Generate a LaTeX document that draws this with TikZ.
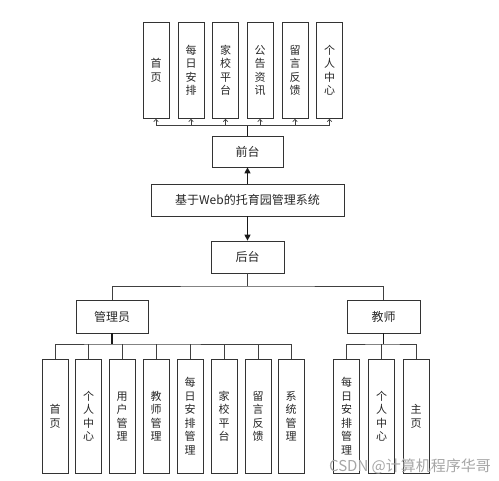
\documentclass[tikz,border=0pt]{standalone}
\usepackage{fontspec}
\newfontfamily\cjk{Noto Sans CJK SC}
\usepackage{tikz}
\usetikzlibrary{arrows.meta}
\usetikzlibrary{positioning}
\tikzset{
    common/.style={draw=black!80, rectangle, line width=0.7pt, inner sep=0pt, text=black!85, align=center,
        font=\cjk\fontsize{11}{13.5}\selectfont},
    column/.style={common, anchor=north, minimum width=26pt},
    topcolumn/.style={column, minimum height=96pt},
    bottomcolumn/.style={column, minimum height=114pt},
    block/.style={common, minimum height=32pt, font=\cjk\fontsize{12}{14}\selectfont},
    link/.style={draw=black!75, line width=0.7pt},
    stem/.style={draw=black!90, line width=1.2pt},
    up/.style={link, -{Straight Barb[length=2.5pt, width=4.5pt]}},
    mainarrow/.style={stem, -{Triangle[length=6pt, width=6pt]}},
}

\begin{document}
\begin{tikzpicture}[x=1pt, y=-1pt]
            \useasboundingbox (0,0) rectangle (499,481);

            % the system and its two sides
            \node[block, minimum width=193pt] (system) at (247.5,200) {基于Web的托育园管理系统};
            \node[block, minimum width=71pt, minimum height=31pt] (front) at (247.5,151.5) {前台};
            \node[block, minimum width=73pt] (back) at (247.5,257) {后台};
            \node[block, minimum width=72pt, minimum height=33pt] (admin) at (112,316.5) {管理员};
            \node[block, minimum width=73pt, minimum height=33pt] (teacher) at (383.5,316.5) {教师};

            \draw[mainarrow] (system) -- (front);
            \draw[mainarrow] (system) -- (back);

            % front pages
            \path
                (156,22) node[topcolumn] (f-home) {首\\页}
                +(35,0) node[topcolumn] (f-daily) {每\\日\\安\\排}
                +(69.5,0) node[topcolumn] (f-school) {家\\校\\平\\台}
                +(104,0) node[topcolumn] (f-news) {公\\告\\资\\讯}
                +(139,0) node[topcolumn] (f-message) {留\\言\\反\\馈}
                +(173.5,0) node[topcolumn] (f-center) {个\\人\\中\\心};

            \coordinate (f-bus) at (247.5,125);
            \draw[stem] (front.north) -- (f-bus);
            \draw[link] (f-home.south |- f-bus) -- (f-center.south |- f-bus);
            \draw[up] (f-home.south |- f-bus) -- (f-home.south);
            \draw[up] (f-daily.south |- f-bus) -- (f-daily.south);
            \draw[up] (f-school.south |- f-bus) -- (f-school.south);
            \draw[up] (f-news.south |- f-bus) -- (f-news.south);
            \draw[up] (f-message.south |- f-bus) -- (f-message.south);
            \draw[up] (f-center.south |- f-bus) -- (f-center.south);

            % back roles
            \coordinate (b-bus) at (247.5,286);
            \draw[link] (back.south) -- (b-bus);
            \draw[link] (admin.north) |- (b-bus) -| (teacher.north);

            % admin pages
            \path
                (55,359) node[bottomcolumn] (a-home) {首\\页}
                +(33.5,0) node[bottomcolumn] (a-center) {个\\人\\中\\心}
                +(67,0) node[bottomcolumn] (a-user) {用\\户\\管\\理}
                +(101,0) node[bottomcolumn] (a-teacher) {教\\师\\管\\理}
                +(135,0) node[bottomcolumn] (a-daily) {每\\日\\安\\排\\管\\理}
                +(169,0) node[bottomcolumn] (a-school) {家\\校\\平\\台}
                +(203,0) node[bottomcolumn] (a-message) {留\\言\\反\\馈}
                +(236,0) node[bottomcolumn] (a-system) {系\\统\\管\\理};

            \coordinate (a-bus) at (112,344);
            \draw[stem] (admin.south) -- (a-bus);
            \draw[link] (a-home.north) |- (a-bus) -| (a-system.north);
            \draw[link] (a-center.north) -- (a-center.north |- a-bus)
                (a-user.north) -- (a-user.north |- a-bus)
                (a-teacher.north) -- (a-teacher.north |- a-bus)
                (a-daily.north) -- (a-daily.north |- a-bus)
                (a-school.north) -- (a-school.north |- a-bus)
                (a-message.north) -- (a-message.north |- a-bus);

            % teacher pages
            \path
                (346.5,359) node[bottomcolumn] (t-daily) {每\\日\\安\\排\\管\\理}
                +(35,0) node[bottomcolumn] (t-center) {个\\人\\中\\心}
                +(69.5,0) node[bottomcolumn] (t-home) {主\\页};

            \coordinate (t-bus) at (383.5,344);
            \draw[stem] (teacher.south) -- (t-bus);
            \draw[link] (t-daily.north) |- (t-bus) -| (t-home.north);
            \draw[link] (t-center.north) -- (t-center.north |- t-bus);

            \node[text=black!35, font=\cjk\fontsize{15}{17}\selectfont] (watermark) at (410,466) {CSDN @计算机程序华哥};
\end{tikzpicture}
\end{document}
